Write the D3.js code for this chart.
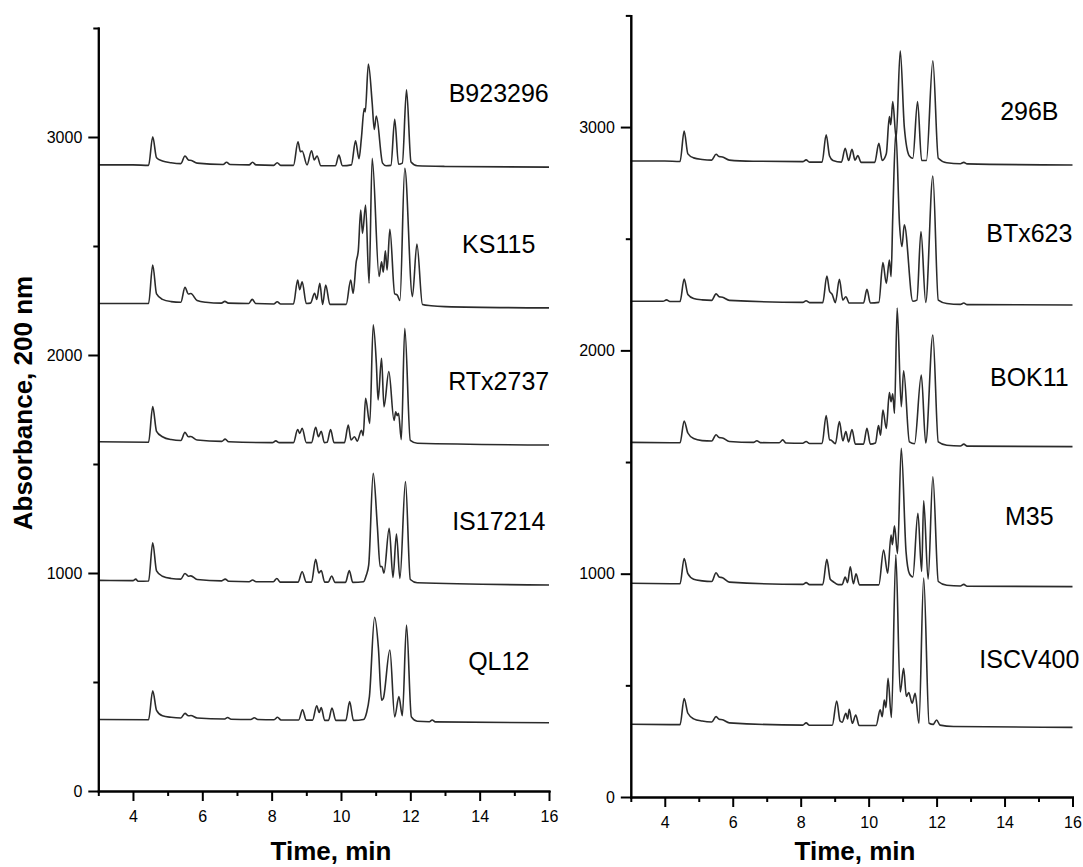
<!DOCTYPE html>
<html>
<head>
<meta charset="utf-8">
<script src="https://cdn.jsdelivr.net/npm/d3@7"></script>
<style>
  body { margin: 0; background: #fff; }
  svg { font-family: "Liberation Sans", Arial, sans-serif; }
  .axis path, .axis line { stroke: #000; stroke-width: 2; }
  .axis text { font-size: 16px; fill: #000; }
  .trace { fill: none; stroke: #2b2b2b; stroke-width: 1.6; stroke-linejoin: round; }
  .sample { font-size: 25px; fill: #000; }
  .axis-title { font-size: 26px; font-weight: bold; fill: #000; }
</style>
</head>
<body>
<div id="chart"></div>
<script>
// axis ticks
const timeMajor = [4, 6, 8, 10, 12, 14, 16];
const timeMinor = [3, 5, 7, 9, 11, 13, 15];
const absMajor = [0, 1000, 2000, 3000];
const absMinor = [500, 1500, 2500, 3500];

const leftSamples = ["B923296", "KS115", "RTx2737", "IS17214", "QL12"];
const rightSamples = ["296B", "BTx623", "BOK11", "M35", "ISCV400"];

// chromatograms, [time (min), absorbance]
const B923296 = [[3,2872],[4.0,2872],[4.45,2870],[4.57,3001],[4.68,2905],[4.85,2890],[5.1,2882],[5.38,2878],[5.5,2913],[5.6,2895],[5.69,2892],[5.85,2880],[6.6,2874],[6.7,2884],[6.8,2874],[7.35,2872],[7.45,2884],[7.55,2872],[8.06,2870],[8.16,2882],[8.26,2870],[8.63,2870],[8.76,2978],[8.83,2932],[8.88,2936],[9.02,2872],[9.15,2937],[9.23,2895],[9.31,2913],[9.42,2868],[9.84,2868],[9.94,2917],[10.04,2868],[10.3,2872],[10.42,2982],[10.52,2900],[10.59,2997],[10.67,3131],[10.7,3115],[10.79,3335],[10.9,3156],[10.96,3035],[11.02,3096],[11.2,2880],[11.3,2868],[11.44,2870],[11.55,3081],[11.66,2875],[11.77,2880],[11.89,3216],[12.02,2885],[12.2,2868],[13,2865],[16,2862]];

const KS115 = [[3,2236],[4.45,2236],[4.57,2413],[4.68,2280],[4.85,2255],[5.1,2245],[5.38,2242],[5.5,2310],[5.6,2280],[5.67,2282],[5.85,2250],[6.1,2242],[6.55,2238],[6.65,2246],[6.75,2238],[7.34,2236],[7.44,2255],[7.54,2236],[8.06,2234],[8.16,2244],[8.26,2234],[8.63,2234],[8.75,2344],[8.81,2300],[8.88,2336],[9.0,2236],[9.12,2238],[9.24,2283],[9.3,2255],[9.39,2329],[9.47,2232],[9.56,2321],[9.68,2232],[10.15,2232],[10.28,2344],[10.35,2283],[10.44,2428],[10.5,2480],[10.57,2665],[10.62,2558],[10.71,2688],[10.81,2329],[10.9,2902],[11.1,2360],[11.17,2428],[11.22,2380],[11.28,2478],[11.33,2390],[11.41,2577],[11.55,2280],[11.62,2276],[11.7,2250],[11.84,2856],[12.06,2268],[12.19,2509],[12.35,2232],[12.6,2226],[13,2222],[16,2216]];

const RTx2737 = [[3,1602],[4.45,1600],[4.57,1763],[4.68,1650],[4.85,1625],[5.1,1612],[5.38,1608],[5.5,1645],[5.6,1625],[5.67,1626],[5.85,1610],[6.56,1604],[6.66,1614],[6.76,1602],[8.02,1598],[8.12,1606],[8.22,1598],[8.63,1598],[8.75,1658],[8.81,1640],[8.88,1664],[9.0,1598],[9.15,1598],[9.27,1668],[9.35,1625],[9.43,1650],[9.52,1598],[9.6,1600],[9.7,1658],[9.8,1598],[10.1,1598],[10.21,1679],[10.29,1610],[10.39,1625],[10.47,1605],[10.59,1655],[10.64,1630],[10.71,1801],[10.83,1686],[10.93,2138],[11.02,1962],[11.07,1794],[11.17,1985],[11.24,1762],[11.38,1924],[11.53,1700],[11.58,1740],[11.62,1722],[11.66,1733],[11.74,1612],[11.84,2122],[12.0,1608],[12.2,1595],[16,1587]];

const IS17214 = [[3,966],[4.0,965],[4.08,972],[4.15,962],[4.45,963],[4.57,1139],[4.68,1010],[4.85,985],[5.1,975],[5.38,972],[5.5,998],[5.6,985],[5.67,987],[5.85,970],[6.56,964],[6.66,972],[6.76,962],[7.35,960],[7.45,968],[7.55,960],[8.05,960],[8.15,975],[8.25,958],[8.76,958],[8.88,1006],[9.0,958],[9.15,958],[9.27,1063],[9.36,1000],[9.43,1011],[9.53,958],[9.63,958],[9.73,986],[9.83,957],[10.13,957],[10.24,1011],[10.34,957],[10.65,960],[10.73,990],[10.8,1037],[10.93,1457],[11.05,1212],[11.13,1029],[11.18,1030],[11.24,1000],[11.39,1205],[11.5,980],[11.6,1179],[11.7,975],[11.86,1419],[12.0,970],[12.2,955],[16,945]];

const QL12 = [[3,328],[4.45,327],[4.57,460],[4.68,370],[4.85,345],[5.1,338],[5.38,335],[5.5,356],[5.6,345],[5.67,346],[5.85,335],[6.63,330],[6.73,337],[6.83,329],[7.4,328],[7.5,336],[7.6,328],[8.07,327],[8.17,338],[8.27,326],[8.78,326],[8.89,372],[9.0,325],[9.18,325],[9.3,391],[9.37,360],[9.43,383],[9.53,324],[9.64,324],[9.74,381],[9.85,324],[10.14,324],[10.25,410],[10.36,324],[10.65,328],[10.74,360],[10.82,433],[10.97,797],[11.08,655],[11.17,417],[11.22,425],[11.41,647],[11.55,340],[11.67,433],[11.77,345],[11.89,761],[12.03,340],[12.2,320],[12.55,318],[12.63,326],[12.72,317],[16,313]];

const s296B = [[3,2848],[4.0,2848],[4.45,2846],[4.57,2982],[4.68,2880],[4.85,2862],[5.1,2855],[5.38,2852],[5.51,2878],[5.6,2868],[5.7,2866],[5.9,2852],[6.6,2847],[8.06,2845],[8.16,2853],[8.26,2843],[8.63,2843],[8.75,2965],[8.85,2870],[8.95,2850],[9.2,2843],[9.31,2905],[9.41,2850],[9.51,2900],[9.6,2852],[9.68,2872],[9.78,2842],[10.18,2842],[10.3,2927],[10.4,2850],[10.52,2880],[10.61,3047],[10.65,3010],[10.71,3114],[10.81,2950],[10.93,3342],[11.05,3000],[11.2,2870],[11.3,2860],[11.44,3114],[11.56,2850],[11.7,2850],[11.89,3297],[12.05,2860],[12.3,2840],[12.7,2836],[12.8,2842],[12.9,2835],[16,2830]];

const BTx623 = [[3,2220],[3.95,2220],[4.05,2226],[4.15,2219],[4.45,2219],[4.57,2319],[4.68,2250],[4.85,2232],[5.1,2226],[5.38,2224],[5.51,2253],[5.6,2240],[5.7,2238],[5.9,2224],[8.06,2215],[8.16,2222],[8.26,2214],[8.65,2214],[8.77,2333],[8.85,2265],[8.93,2250],[9.02,2214],[9.14,2318],[9.24,2225],[9.33,2240],[9.43,2212],[9.85,2212],[9.95,2273],[10.05,2212],[10.3,2215],[10.42,2393],[10.52,2300],[10.61,2405],[10.66,2330],[10.71,2599],[10.8,2980],[10.91,2562],[10.98,2465],[11.05,2562],[11.3,2220],[11.42,2225],[11.54,2532],[11.68,2215],[11.89,2781],[12.05,2225],[12.3,2210],[12.7,2206],[12.8,2212],[12.9,2205],[16,2203]];

const BOK11 = [[3,1588],[4.45,1586],[4.57,1684],[4.68,1630],[4.85,1605],[5.1,1596],[5.38,1594],[5.51,1622],[5.6,1610],[5.7,1608],[5.9,1592],[6.61,1588],[6.71,1595],[6.81,1587],[7.37,1586],[7.47,1599],[7.57,1585],[8.06,1584],[8.16,1592],[8.26,1583],[8.63,1583],[8.75,1708],[8.85,1600],[8.9,1598],[9.02,1582],[9.14,1681],[9.24,1595],[9.33,1636],[9.41,1590],[9.51,1646],[9.61,1580],[9.85,1580],[9.95,1651],[10.05,1580],[10.2,1585],[10.29,1663],[10.35,1620],[10.42,1733],[10.52,1650],[10.61,1811],[10.66,1770],[10.71,1806],[10.76,1718],[10.84,2190],[10.96,1748],[11.03,1909],[11.2,1590],[11.35,1582],[11.55,1890],[11.68,1585],[11.89,2069],[12.05,1590],[12.3,1575],[12.7,1572],[12.8,1580],[12.9,1571],[16,1569]];

const M35 = [[3,957],[4.45,955],[4.57,1068],[4.68,1000],[4.85,975],[5.1,968],[5.38,965],[5.51,1004],[5.6,985],[5.7,982],[5.9,962],[8.06,952],[8.16,960],[8.26,951],[8.65,951],[8.77,1064],[8.87,975],[8.95,965],[9.1,951],[9.22,951],[9.31,985],[9.38,960],[9.46,1031],[9.55,955],[9.63,999],[9.73,950],[10.3,950],[10.44,1106],[10.56,1002],[10.66,1173],[10.7,1130],[10.76,1214],[10.85,1090],[10.96,1561],[11.1,1100],[11.2,1000],[11.3,985],[11.45,1270],[11.56,1010],[11.62,1326],[11.75,975],[11.89,1434],[12.05,965],[12.3,948],[12.7,945],[12.8,952],[12.9,944],[16,942]];

const ISCV400 = [[3,326],[4.45,324],[4.57,441],[4.68,375],[4.85,350],[5.1,340],[5.38,336],[5.51,360],[5.6,348],[5.7,346],[5.9,332],[8.06,322],[8.16,332],[8.26,321],[8.93,321],[9.06,430],[9.16,340],[9.22,335],[9.33,375],[9.38,350],[9.43,393],[9.52,330],[9.62,367],[9.72,320],[10.22,320],[10.34,390],[10.4,360],[10.46,434],[10.51,400],[10.57,531],[10.67,356],[10.8,1084],[10.93,470],[11.03,576],[11.11,450],[11.18,468],[11.28,420],[11.37,464],[11.48,330],[11.62,980],[11.78,330],[11.9,325],[12.0,345],[12.1,322],[12.5,316],[16,312]];

const leftTraces = [B923296, KS115, RTx2737, IS17214, QL12];
const rightTraces = [s296B, BTx623, BOK11, M35, ISCV400];

// where sample names sit, in data units [time, absorbance]
const leftLabelAt = [[14.55,3161],[14.55,2468],[14.55,1839],[14.55,1197],[14.55,555]];
const rightLabelAt = [[14.73,3032],[14.73,2487],[14.73,1841],[14.73,1218],[14.73,578]];

const W = 1083, H = 867;

const svg = d3.select("#chart").append("svg")
  .attr("width", W).attr("height", H);

function drawPanel(cfg) {
  const x = d3.scaleLinear().domain([3, 16]).range(cfg.xRange);
  const y = d3.scaleLinear().domain([0, 3500]).range(cfg.yRange);
  const g = svg.append("g");

  const line = d3.line()
    .x(d => x(d[0]))
    .y(d => y(d[1]))
    .curve(d3.curveMonotoneX);

  g.selectAll(".trace")
    .data(cfg.traces)
    .join("path")
    .attr("class", "trace")
    .attr("d", line);

  g.selectAll(".sample")
    .data(cfg.names)
    .join("text")
    .attr("class", "sample")
    .attr("text-anchor", "middle")
    .attr("x", (d, i) => x(cfg.labelAt[i][0]))
    .attr("y", (d, i) => y(cfg.labelAt[i][1]))
    .text(d => d);

  // y axis, major + minor
  g.append("g").attr("class", "axis")
    .attr("transform", `translate(${cfg.xRange[0]},0)`)
    .call(d3.axisLeft(y).tickValues(absMinor).tickSize(5).tickSizeOuter(0).tickFormat(""));
  g.append("g").attr("class", "axis")
    .attr("transform", `translate(${cfg.xRange[0]},0)`)
    .call(d3.axisLeft(y).tickValues(absMajor).tickSize(10).tickSizeOuter(0).tickPadding(6).tickFormat(d3.format("d")));

  // x axis, major + minor
  g.append("g").attr("class", "axis")
    .attr("transform", `translate(0,${cfg.yRange[0]})`)
    .call(d3.axisBottom(x).tickValues(timeMinor).tickSize(5).tickSizeOuter(0).tickFormat(""));
  g.append("g").attr("class", "axis")
    .attr("transform", `translate(0,${cfg.yRange[0]})`)
    .call(d3.axisBottom(x).tickValues(timeMajor).tickSize(10).tickSizeOuter(0).tickPadding(10).tickFormat(d3.format("d")));

  g.selectAll(".axis .domain").attr("stroke-linecap", "square");

  g.append("text")
    .attr("class", "axis-title")
    .attr("text-anchor", "middle")
    .attr("x", cfg.titleX)
    .attr("y", 860)
    .text("Time, min");
}

drawPanel({
  xRange: [98.3, 549],
  yRange: [791, 28],
  traces: leftTraces,
  names: leftSamples,
  labelAt: leftLabelAt,
  titleX: 331
});

drawPanel({
  xRange: [630.8, 1072.5],
  yRange: [797, 15.4],
  traces: rightTraces,
  names: rightSamples,
  labelAt: rightLabelAt,
  titleX: 855
});

svg.append("text")
  .attr("class", "axis-title")
  .attr("text-anchor", "middle")
  .attr("transform", "translate(32,403) rotate(-90)")
  .text("Absorbance, 200 nm");
</script>
</body>
</html>
